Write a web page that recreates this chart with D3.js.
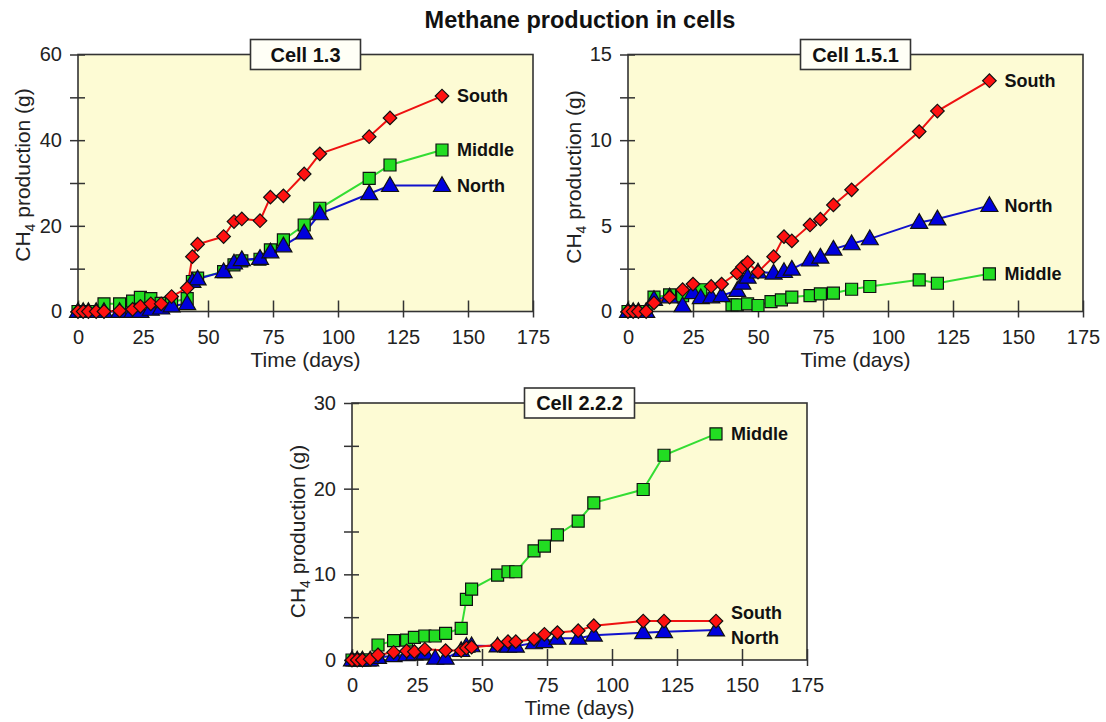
<!DOCTYPE html>
<html><head><meta charset="utf-8">
<script src="https://cdn.jsdelivr.net/npm/d3@7"></script>
<style>html,body{margin:0;padding:0;background:#fff;}svg{display:block;font-family:"Liberation Sans",Arial,sans-serif;}</style>
</head><body>
<svg id="chart" width="1106" height="722"></svg>
<script>
// ---------- data ----------
const chartTitle = "Methane production in cells";
const xTicks = [0, 25, 50, 75, 100, 125, 150, 175];
const seriesNames = ["Middle", "North", "South"];

// Cell 1.3
const c1Title = "Cell 1.3";
const c1YTicks = [0, 10, 20, 30, 40, 50, 60];
const c1YLabels = [0, 20, 40, 60];
const c1Days = [0,2,4,7,10,16,21,24,28,32,36,42,44,46,56,60,63,70,74,79,87,93,112,120,140];
const c1South  = [0,0,0,0,0,0.2,0.5,1.2,1.8,1.8,3.5,5.5,12.8,15.7,17.5,21,21.6,21.2,26.7,27,32.1,36.8,40.8,45.2,50.3];
const c1Middle = [0,0,0,0,1.8,1.8,2.4,3.3,3.0,1.9,2.2,3.0,7.0,7.8,9.3,10.9,11.8,12.2,14.4,16.7,20.2,24.1,31.1,34.2,37.7];
const c1North  = [0,0,0,0,0,0,0,0,0.5,0.8,1.3,1.8,7.0,7.6,9.3,11.3,12.1,12.4,13.9,15.3,18.3,22.8,27.5,29.4,29.4];

// Cell 1.5.1
const c2Title = "Cell 1.5.1";
const c2YTicks = [0, 2.5, 5, 7.5, 10, 12.5, 15];
const c2YLabels = [0, 5, 10, 15];
const c2SouthDays  = [0,2,4,7,10,16,21,25,32,36,42,44,46,50,56,60,63,70,74,79,86,112,119,139];
const c2South      = [0,0,0,0,0.5,0.84,1.27,1.6,1.46,1.6,2.24,2.6,2.86,2.3,3.2,4.37,4.12,5.05,5.39,6.22,7.1,10.5,11.7,13.47];
const c2MiddleDays = [0,2,4,7,10,16,21,28,40,42,46,50,55,59,63,70,74,79,86,93,112,119,139];
const c2Middle     = [0,0,0,0,0.84,0.97,0.92,1.27,0.39,0.39,0.45,0.35,0.58,0.68,0.84,0.93,1.03,1.07,1.3,1.46,1.85,1.65,2.2];
const c2NorthDays  = [0,2,4,7,10,16,21,25,28,32,36,42,44,46,50,56,60,63,70,74,79,86,93,112,119,139];
const c2North      = [0,0,0,0,0.7,0.85,0.33,1.1,0.8,0.85,0.92,1.23,1.65,2.0,2.3,2.24,2.33,2.47,3.0,3.17,3.64,3.95,4.24,5.2,5.4,6.18];

// Cell 2.2.2
const c3Title = "Cell 2.2.2";
const c3YTicks = [0, 5, 10, 15, 20, 25, 30];
const c3YLabels = [0, 10, 20, 30];
const c3Days      = [0,2,4,7,10,16,21,24,28,32,36,42,44,46,56,60,63,70,74,79,87,93,112,120,140];
const c3Middle    = [0,0,0,0,1.75,2.25,2.33,2.64,2.8,2.8,3.1,3.7,7.07,8.28,9.9,10.3,10.3,12.75,13.3,14.6,16.2,18.35,19.9,23.9,26.4];
const c3North     = [0,0,0,0,0.3,0.5,0.6,0.7,0.8,0.2,0.2,1.1,1.6,1.65,1.63,1.6,1.6,2.0,2.14,2.53,2.53,2.9,3.19,3.3,3.5];
const c3SouthDays = [0,2,4,7,10,16,21,24,28,36,42,44,46,56,60,63,70,74,79,87,93,112,120,140];
const c3South     = [0,0,0,0.1,0.6,0.9,1.05,0.97,1.25,1.1,1.1,1.4,1.5,1.75,2.14,2.14,2.45,3.0,3.2,3.42,4.0,4.55,4.55,4.55];

// ---------- styles ----------
const style = {
  Middle: {line: "#33dd33", fill: "#22dd22", shape: d3.symbolSquare, size: 144, rot: 0},
  North:  {line: "#1111cc", fill: "#0000dd", shape: d3.symbolTriangle, size: 125, rot: 0},
  South:  {line: "#ee1111", fill: "#ff1111", shape: d3.symbolSquare, size: 92, rot: 45}
};
const zip = (xs, ys) => xs.map((d, i) => [d, ys[i]]);

const panels = [
  {title: c1Title, left: 78, top: 54.5, yMax: 60, yTicks: c1YTicks, yLabels: c1YLabels, ylabX: 22, ylabShift: -8,
   series: {Middle: zip(c1Days, c1Middle), North: zip(c1Days, c1North), South: zip(c1Days, c1South)},
   labelShift: {Middle: 0, North: 0, South: 0}},
  {title: c2Title, left: 628, top: 54.5, yMax: 15, yTicks: c2YTicks, yLabels: c2YLabels, ylabX: 573, ylabShift: -6,
   series: {Middle: zip(c2MiddleDays, c2Middle), North: zip(c2NorthDays, c2North), South: zip(c2SouthDays, c2South)},
   labelShift: {Middle: 0, North: 0, South: 0}},
  {title: c3Title, left: 352, top: 403, yMax: 30, yTicks: c3YTicks, yLabels: c3YLabels, ylabX: 297, ylabShift: 0,
   series: {Middle: zip(c3Days, c3Middle), North: zip(c3Days, c3North), South: zip(c3SouthDays, c3South)},
   labelShift: {Middle: 0, North: 8, South: -8}}
];
const W = 455, H = 257;

const svg = d3.select("#chart");
svg.append("text").attr("x", 580).attr("y", 28).attr("text-anchor", "middle")
  .attr("font-size", 23.5).attr("font-weight", "bold").attr("fill", "#111").text(chartTitle);

panels.forEach(p => {
  const g = svg.append("g").attr("transform", `translate(${p.left},${p.top})`);
  const x = d3.scaleLinear().domain([0, 175]).range([0, W]);
  const y = d3.scaleLinear().domain([0, p.yMax]).range([H, 0]);

  g.append("rect").attr("width", W).attr("height", H).attr("fill", "#fdfbd4");

  // y axis
  const ya = g.append("g").call(d3.axisLeft(y).tickValues(p.yTicks)
      .tickFormat(d => p.yLabels.includes(d) ? d : "").tickSize(8).tickPadding(8));
  ya.select(".domain").remove();
  ya.selectAll(".tick line").attr("x1", 7).attr("x2", -8).attr("stroke", "#333").attr("stroke-width", 1.5);
  ya.selectAll(".tick text").attr("font-size", 20).attr("fill", "#222").attr("font-family", "Liberation Sans, Arial, sans-serif");

  // x axis
  const xa = g.append("g").attr("transform", `translate(0,${H})`)
    .call(d3.axisBottom(x).tickValues(xTicks).tickSize(6).tickPadding(12));
  xa.select(".domain").remove();
  xa.selectAll(".tick line").attr("y1", -11).attr("y2", 6).attr("stroke", "#333").attr("stroke-width", 1.5);
  xa.selectAll(".tick text").attr("font-size", 20).attr("fill", "#222").attr("font-family", "Liberation Sans, Arial, sans-serif");

  g.append("rect").attr("width", W).attr("height", H).attr("fill", "none")
    .attr("stroke", "#333").attr("stroke-width", 1.6);

  // axis titles
  g.append("text").attr("x", W / 2).attr("y", H + 55).attr("text-anchor", "middle")
    .attr("font-size", 21).attr("fill", "#222").text("Time (days)");
  const yl = svg.append("text")
    .attr("transform", `translate(${p.ylabX},${p.top + H / 2 + p.ylabShift}) rotate(-90)`)
    .attr("text-anchor", "middle").attr("dy", "0.36em").attr("font-size", 21).attr("fill", "#222");
  yl.append("tspan").text("CH");
  yl.append("tspan").attr("font-size", 14).attr("dy", 5).text("4");
  yl.append("tspan").attr("dy", -5).text(" production (g)");

  // series
  const line = d3.line().x(d => x(d[0])).y(d => y(d[1]));
  seriesNames.forEach(name => {
    const s = style[name], data = p.series[name];
    g.append("path").datum(data).attr("d", line).attr("fill", "none")
      .attr("stroke", s.line).attr("stroke-width", 2);
  });
  seriesNames.forEach(name => {
    const s = style[name], data = p.series[name];
    g.append("g").selectAll("path").data(data).join("path")
      .attr("transform", d => `translate(${x(d[0])},${y(d[1]) + (name === "North" ? 1 : 0)}) rotate(${s.rot})`)
      .attr("d", d3.symbol().type(s.shape).size(s.size))
      .attr("fill", s.fill).attr("stroke", "#111").attr("stroke-width", 1.2);
    const last = data[data.length - 1];
    g.append("text").attr("x", x(last[0]) + 15).attr("y", y(last[1]) + p.labelShift[name])
      .attr("dy", "0.35em").attr("font-size", 18).attr("font-weight", "bold").attr("fill", "#111").text(name);
  });

  // cell title box
  const bw = 110, bh = 30;
  g.append("rect").attr("x", W / 2 - bw / 2).attr("y", -bh / 2).attr("width", bw).attr("height", bh)
    .attr("fill", "#fffff6").attr("stroke", "#333").attr("stroke-width", 1.6);
  g.append("text").attr("x", W / 2).attr("y", 0).attr("dy", "0.36em").attr("text-anchor", "middle")
    .attr("font-size", 20).attr("font-weight", "bold").attr("fill", "#111").text(p.title);
});
</script>
</body></html>
